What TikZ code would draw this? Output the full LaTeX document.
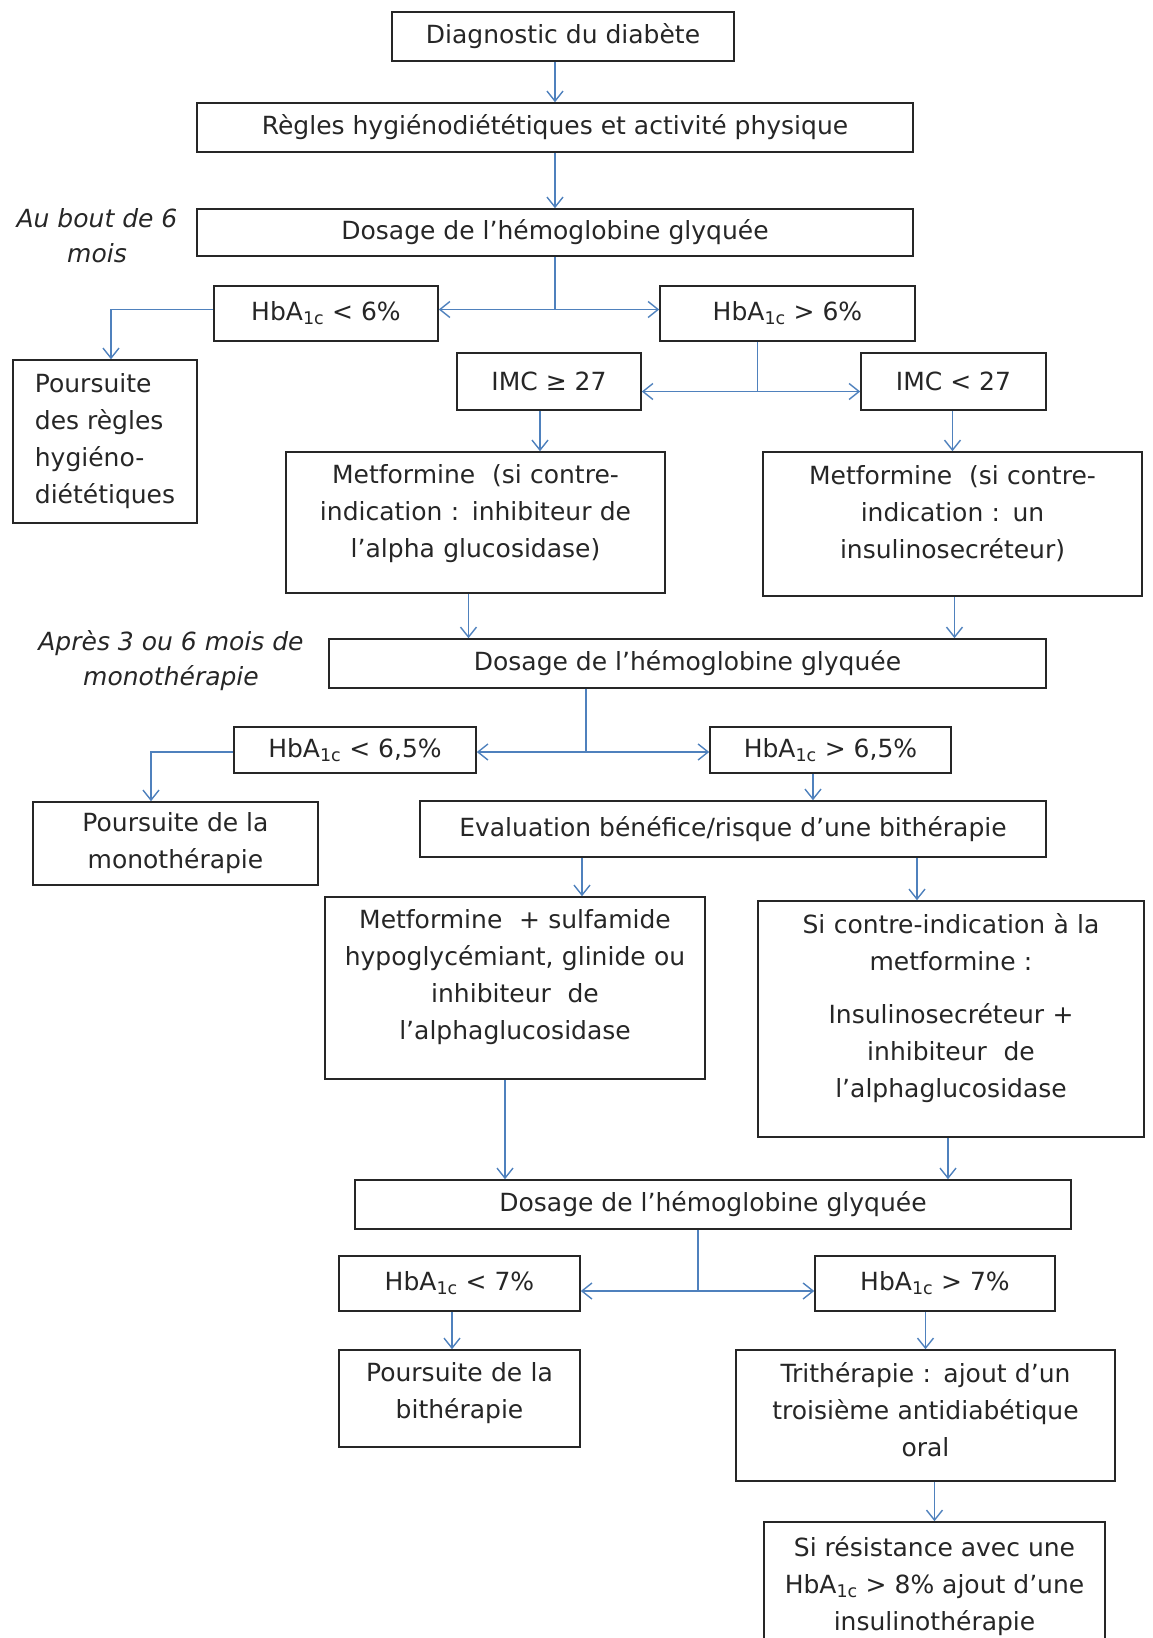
\documentclass[tikz,border=0pt]{standalone}
\usepackage{fontspec}
\setmainfont{DejaVu Sans}
\usetikzlibrary{arrows.meta}

\definecolor{flowblue}{RGB}{79,129,189}
\definecolor{inkgray}{RGB}{38,38,38}

\tikzset{
    box/.style={draw=inkgray, line width=1.6pt, rectangle, inner sep=0pt,
        align=center, text=inkgray, font=\fontsize{25}{37}\selectfont},
    widebox/.style={box, text width=#1},
    note/.style={align=center, text=inkgray, font=\fontsize{25}{35}\selectfont\itshape},
    joint/.style={draw=flowblue, line width=1.4pt},
    flow/.style={joint, -{Straight Barb[length=10pt,width=16pt,line width=1.4pt]}}
}

\begin{document}
\begin{tikzpicture}[x=1pt, y=-1pt]
    \useasboundingbox (0,0) rectangle (1153,1638);

    % first line of treatment
    \node[box, minimum width=342, minimum height=49] (diag) at (563,36.5) {Diagnostic du diabète};
    \node[box, minimum width=716, minimum height=49] (regles) at (555,127.5) {Règles hygiénodiététiques et activité physique};
    \node[box, minimum width=716, minimum height=47] (dosA) at (555,232.5) {Dosage de l’hémoglobine glyquée};
    \node[note] (boutA) at (97,236) {Au bout de 6\\mois};
    \node[box, minimum width=224, minimum height=55] (hbA) at (326,313.5) {HbA\textsubscript{1c} < 6\%};
    \node[box, minimum width=255, minimum height=55] (hbB) at (787.5,313.5) {HbA\textsubscript{1c} > 6\%};
    \node[box, minimum width=184, minimum height=163, align=left] (suiteA) at (105,441.5) {Poursuite\\des règles\\hygiéno-\\diététiques};
    \node[box, minimum width=184, minimum height=57] (imcA) at (549,381.5) {IMC ≥ 27};
    \node[box, minimum width=185, minimum height=57] (imcB) at (953.5,381.5) {IMC < 27};
    \node[widebox=360, minimum width=379, minimum height=141] (metA) at (475.5,522.5) {Metformine~ (si contre-\\indication : inhibiteur de\\l’alpha glucosidase)\par\vspace{17pt}};
    \node[widebox=360, minimum width=379, minimum height=144] (metB) at (952.5,524) {Metformine~ (si contre-\\indication : un\\insulinosecréteur)\par\vspace{20pt}};

    % monotherapy
    \node[box, minimum width=717, minimum height=49] (dosB) at (687.5,663.5) {Dosage de l’hémoglobine glyquée};
    \node[note] (apresB) at (171,661) {Après 3 ou 6 mois de\\monothérapie};
    \node[box, minimum width=242, minimum height=46] (hbC) at (355,750) {HbA\textsubscript{1c} < 6,5\%};
    \node[box, minimum width=241, minimum height=46] (hbD) at (830.5,750) {HbA\textsubscript{1c} > 6,5\%};
    \node[box, minimum width=285, minimum height=83] (suiteB) at (175.5,843.5) {Poursuite de la\\monothérapie};
    \node[box, minimum width=626, minimum height=56] (evalB) at (733,829) {Evaluation bénéfice/risque d’une bithérapie};
    \node[widebox=360, minimum width=380, minimum height=182] (biA) at (515,988) {Metformine~ + sulfamide\\hypoglycémiant, glinide ou\\inhibiteur~ de\\l’alphaglucosidase\par\vspace{21pt}};
    \node[widebox=366, minimum width=386, minimum height=236] (biB) at (951,1019) {Si contre-indication à la\\metformine :\\[16pt]Insulinosecréteur +\\inhibiteur~ de\\l’alphaglucosidase\par\vspace{21pt}};

    % bitherapy
    \node[box, minimum width=716, minimum height=49] (dosC) at (713,1204.5) {Dosage de l’hémoglobine glyquée};
    \node[box, minimum width=241, minimum height=55] (hbE) at (459.5,1283.5) {HbA\textsubscript{1c} < 7\%};
    \node[box, minimum width=240, minimum height=55] (hbF) at (935,1283.5) {HbA\textsubscript{1c} > 7\%};
    \node[widebox=225, minimum width=241, minimum height=97] (suiteC) at (459.5,1398.5) {Poursuite de la\\bithérapie\par\vspace{10pt}};
    \node[widebox=360, minimum width=379, minimum height=131] (triC) at (925.5,1415.5) {Trithérapie : ajout d’un\\troisième antidiabétique\\oral\par\vspace{12pt}};
    \node[box, minimum width=341, minimum height=128] (insC) at (934.5,1586) {Si résistance avec une\\HbA\textsubscript{1c} > 8\% ajout d’une\\insulinothérapie};

    % branching points
    \coordinate (jA) at ([yshift=4]dosA.south |- hbA.east);
    \coordinate (jB) at ([xshift=-30,yshift=-10]hbB.south |- imcA.east);
    \coordinate (jC) at ([xshift=-101.5,yshift=-2]dosB.south |- hbC.east);
    \coordinate (jD) at ([xshift=-15,yshift=-7.5]dosC.south |- hbE.east);

    \draw[flow] (diag.south -| regles.north) -- (regles.north);
    \draw[flow] (regles) -- (dosA);
    \draw[joint] (dosA.south -| jA) -- (jA);
    \draw[flow] (jA) -- (jA -| hbA.east);
    \draw[flow] (jA) -- (jA -| hbB.west);
    \draw[flow] (jA -| hbA.west) -| ([xshift=6]suiteA.north);
    \draw[joint] (hbB.south -| jB) -- (jB);
    \draw[flow] (jB) -- (jB -| imcA.east);
    \draw[flow] (jB) -- (jB -| imcB.west);
    \draw[flow] ([xshift=-9]imcA.south) -- ([xshift=-9]imcA.south |- metA.north);
    \draw[flow] (metB.north |- imcB.south) -- (metB.north);
    \draw[flow] ([xshift=-7]metA.south) -- ([xshift=-7]metA.south |- dosB.north);
    \draw[flow] ([xshift=2]metB.south) -- ([xshift=2]metB.south |- dosB.north);

    \draw[joint] (dosB.south -| jC) -- (jC);
    \draw[flow] (jC) -- (jC -| hbC.east);
    \draw[flow] (jC) -- (jC -| hbD.west);
    \draw[flow] (jC -| hbC.west) -| ([xshift=-24.5]suiteB.north);
    \draw[flow] ([xshift=-17.5]hbD.south) -- ([xshift=-17.5]hbD.south |- evalB.north);
    \draw[flow] ([xshift=67]biA.north |- evalB.south) -- ([xshift=67]biA.north);
    \draw[flow] ([xshift=-34]biB.north |- evalB.south) -- ([xshift=-34]biB.north);
    \draw[flow] ([xshift=-10]biA.south) -- ([xshift=-10]biA.south |- dosC.north);
    \draw[flow] ([xshift=-3]biB.south) -- ([xshift=-3]biB.south |- dosC.north);

    \draw[joint] (dosC.south -| jD) -- (jD);
    \draw[flow] (jD) -- (jD -| hbE.east);
    \draw[flow] (jD) -- (jD -| hbF.west);
    \draw[flow] ([xshift=-7.5]hbE.south) -- ([xshift=-7.5]hbE.south |- suiteC.north);
    \draw[flow] (triC.north |- hbF.south) -- (triC.north);
    \draw[flow] (insC.north |- triC.south) -- (insC.north);
\end{tikzpicture}
\end{document}
